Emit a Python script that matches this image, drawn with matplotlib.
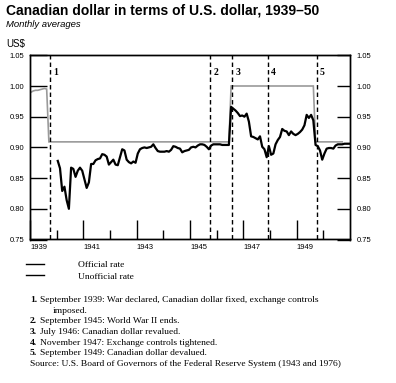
import matplotlib

matplotlib.use("Agg")
import matplotlib.pyplot as plt
import numpy as np
from matplotlib.lines import Line2D

# Monthly averages, US$ per Canadian dollar
START_YEAR = 1939

# official rate, Jan 1939 .. Sep 1950
official_rate = (
    [0.990, 0.992, 0.993, 0.993, 0.994, 0.995, 0.996, 0.995]
    + [0.909] * 82  # Sep 1939 - Jun 1946
    + [1.000] * 38  # Jul 1946 - Aug 1949
    + [0.909] * 13  # Sep 1949 - Sep 1950
)

# unofficial (free market) rate, Jan 1940 .. Dec 1950
unofficial_start = 12
unofficial_rate = [
    0.878, 0.866, 0.829, 0.836, 0.814, 0.800, 0.867, 0.865, 0.852, 0.862, 0.867, 0.862,  # 1940
    0.848, 0.834, 0.843, 0.873, 0.873, 0.879, 0.881, 0.882, 0.889, 0.888, 0.885, 0.872,  # 1941
    0.876, 0.880, 0.872, 0.871, 0.884, 0.897, 0.895, 0.880, 0.876, 0.874, 0.877, 0.875,  # 1942
    0.890, 0.897, 0.899, 0.900, 0.899, 0.900, 0.901, 0.905, 0.899, 0.894, 0.893, 0.893,  # 1943
    0.893, 0.894, 0.893, 0.896, 0.902, 0.901, 0.899, 0.898, 0.892, 0.894, 0.895, 0.896,  # 1944
    0.900, 0.901, 0.900, 0.903, 0.905, 0.905, 0.904, 0.901, 0.897, 0.903, 0.905, 0.905,  # 1945
    0.905, 0.905, 0.904, 0.904, 0.904, 0.904, 0.966, 0.963, 0.960, 0.956, 0.951, 0.952,  # 1946
    0.950, 0.955, 0.942, 0.918, 0.917, 0.915, 0.913, 0.918, 0.901, 0.897, 0.884, 0.902,  # 1947
    0.888, 0.890, 0.905, 0.912, 0.917, 0.930, 0.927, 0.926, 0.920, 0.926, 0.922, 0.920,  # 1948
    0.922, 0.925, 0.929, 0.936, 0.953, 0.948, 0.953, 0.944, 0.904, 0.902, 0.895, 0.880,  # 1949
    0.890, 0.898, 0.899, 0.899, 0.898, 0.903, 0.905, 0.905, 0.905, 0.906, 0.906, 0.906,  # 1950
]

# events: (label, year, month)
events = [("1", 1939, 9), ("2", 1945, 9), ("3", 1946, 7), ("4", 1947, 11), ("5", 1949, 9)]

notes = [
    ("1.", "September 1939: War declared, Canadian dollar fixed, exchange controls"),
    ("", "imposed."),
    ("2.", "September 1945: World War II ends."),
    ("3.", "July 1946: Canadian dollar revalued."),
    ("4.", "November 1947: Exchange controls tightened."),
    ("5.", "September 1949: Canadian dollar devalued."),
]
source = "Source: U.S. Board of Governors of the Federal Reserve System (1943 and 1976)"

yticks = [0.75, 0.80, 0.85, 0.90, 0.95, 1.00, 1.05]
major_years = [1939, 1941, 1943, 1945, 1947, 1949]
minor_years = [1940, 1942, 1944, 1946, 1948, 1950]

W, H = 396, 383
fig = plt.figure(figsize=(W / 100, H / 100), dpi=100)
ax = fig.add_axes([30 / W, 1 - 239.5 / H, 320 / W, 184.2 / H])

# data plotted at mid-month
x_off = START_YEAR + (np.arange(len(official_rate)) + 0.5) / 12.0
x_unoff = START_YEAR + (np.arange(len(unofficial_rate)) + unofficial_start + 0.5) / 12.0
ax.plot(x_off, official_rate, color="#9a9a9a", linewidth=1.2, solid_joinstyle="miter")
ax.plot(x_unoff, unofficial_rate, color="black", linewidth=1.6)

for label, year, month in events:
    xe = year + month / 12.0
    ax.axvline(xe, color="black", linestyle=(0, (3.2, 2.2)), linewidth=1.0)
    ax.text(xe + 0.12, 1.022, label, fontsize=7, fontweight="bold",
            family="Liberation Serif", ha="left", va="center")

ax.set_xlim(1939, 1951)
ax.set_ylim(0.75, 1.05)
tick_font = dict(family=["Liberation Sans Narrow", "Liberation Sans"], size=5.5)

ax.set_yticks(yticks)
ax.set_yticklabels([f"{v:.2f}" for v in yticks], **tick_font)
ax.tick_params(axis="y", direction="in", length=12, width=1, pad=4)
ax2 = ax.twinx()
ax2.set_ylim(ax.get_ylim())
ax2.set_yticks(yticks)
ax2.set_yticklabels([f"{v:.2f}" for v in yticks], **tick_font)
ax2.tick_params(axis="y", direction="in", length=9.5, width=1, pad=4.5)

ax.set_xticks(major_years)
ax.set_xticklabels([str(y) for y in major_years], ha="left", **tick_font)
ax.set_xticks(minor_years, minor=True)
ax.tick_params(axis="x", which="major", direction="in", length=13.5, width=1, pad=3)
ax.tick_params(axis="x", which="minor", direction="in", length=6.5, width=1)
for a in (ax, ax2):
    for s in a.spines.values():
        s.set_linewidth(1.0)

fig.text(6 / W, 1 - 10.5 / H, "Canadian dollar in terms of U.S. dollar, 1939\u201350",
         family="Liberation Sans", fontweight="bold", fontsize=10, va="center")
fig.text(6 / W, 1 - 24.5 / H, "Monthly averages", family="Liberation Sans",
         style="italic", fontsize=6.8, va="center")
fig.text(6 / W, 1 - 44 / H, "US$", family="Liberation Sans", fontsize=7, va="center")

handles = [Line2D([], [], color="black", linewidth=1.0),
           Line2D([], [], color="black", linewidth=1.0)]
fig.legend(handles, ["Official rate", "Unofficial rate"], loc="upper left",
           bbox_to_anchor=(26 / W, 1 - 260.5 / H), frameon=False, handlelength=1.9,
           handletextpad=3.6, labelspacing=0.3, borderaxespad=0, borderpad=0,
           prop=dict(family="Liberation Serif", size=6.8))

note_font = dict(family="Liberation Serif", size=6.8, va="center")
y = 300
for num, text in notes:
    if num:
        fig.text(30 / W, 1 - y / H, num, fontweight="bold", **note_font)
        fig.text(40.5 / W, 1 - y / H, text, **note_font)
    else:
        fig.text(52.5 / W, 1 - y / H, text, **note_font)
    y += 10.7
fig.text(30.5 / W, 1 - y / H, source, **note_font)

fig.savefig("out.png", dpi=100)
